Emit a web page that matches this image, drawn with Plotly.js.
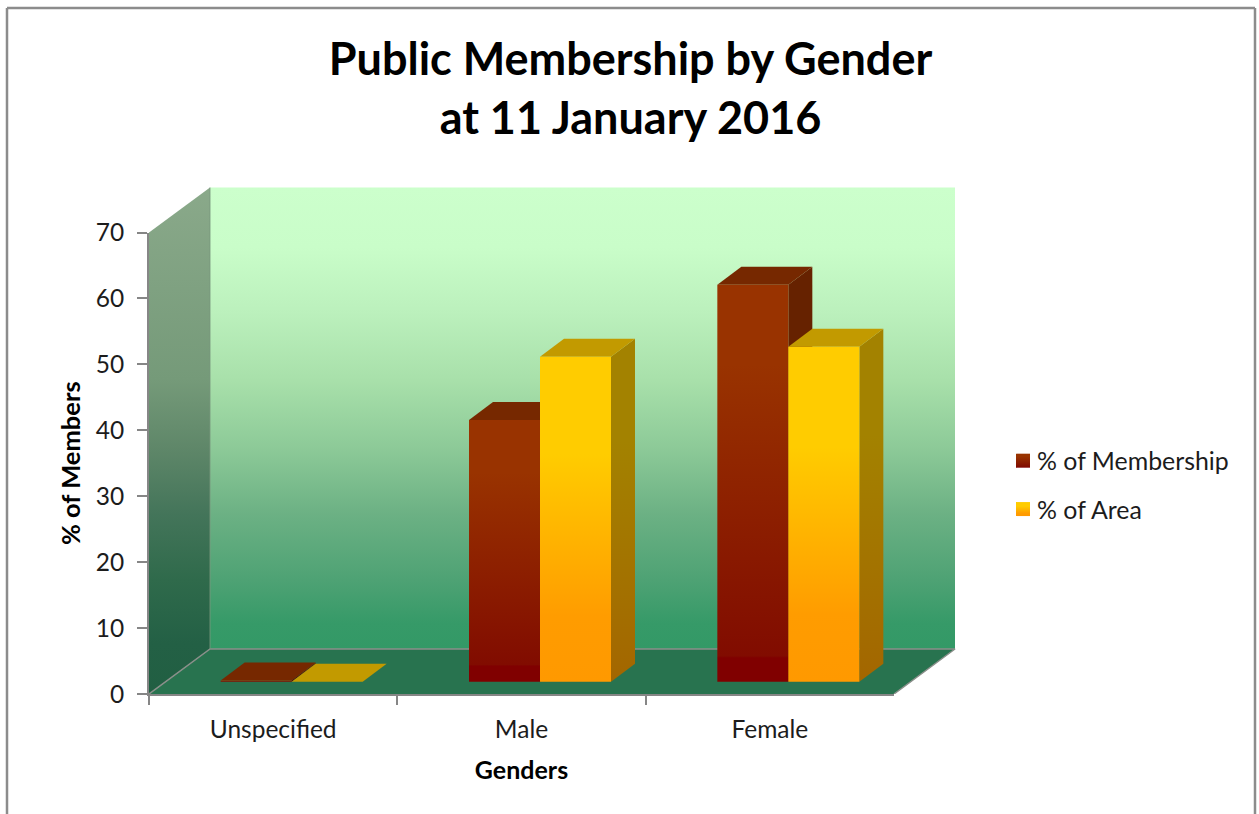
<!DOCTYPE html>
<html>
<head>
<meta charset="utf-8">
<script src="https://cdn.plot.ly/plotly-3.0.1.min.js"></script>
<style>html,body{margin:0;padding:0;background:#fff}#chart{width:1259px;height:814px}</style>
</head>
<body>
<div id="chart"></div>
<script>
const categories = ['Unspecified', 'Male', 'Female'];
const membership = [0.2, 39.7, 60.2];
const area = [0, 49.3, 50.8];
const seriesNames = ['% of Membership', '% of Area'];
const titleText = 'Public Membership by Gender<br>at 11 January 2016';
const xTitle = 'Genders';
const yTitle = '% of Members';

const W = 1259, H = 814;
const left = 149, right = 894, axisBottom = 694, axisTop = 232.5;
const pxX = (right - left) / 3, pxY = (axisBottom - axisTop) / 70;
const wallDx = 61 / pxX, wallDy = 45 / pxY;
const barDx = 24 / pxX, barDy = 18 / pxY;
const floorY = 12.3 / pxY;
const barW = 71 / pxX, off1 = -52.5 / pxX, off2 = 18.5 / pxX;
const wideRight = left + 815, wideTop = 185;
const wideXMax = -0.5 + (wideRight - left) / pxX, wideYMax = (axisBottom - wideTop) / pxY;

function poly(xs, ys, fill, grad) {
  const t = {type:'scatter', mode:'lines', x:xs.concat(xs[0]), y:ys.concat(ys[0]), fill:'toself',
    line:{width:0, color:'rgba(0,0,0,0)'}, showlegend:false, hoverinfo:'skip', xaxis:'x', yaxis:'y'};
  if (grad) {
    t.fillgradient = {type:'vertical', start:grad.start, stop:grad.stop, colorscale:grad.scale};
  } else t.fillcolor = fill;
  return t;
}
const traces = [];
traces.push(poly([-0.5+wallDx, 2.5+wallDx, 2.5+wallDx, -0.5+wallDx],
  [wallDy, wallDy, 70+wallDy, 70+wallDy], null,
  {start:wallDy, stop:70+wallDy, scale:[[0,'#339966'],[0.056,'#369a68'],[0.149,'#4ea274'],[0.294,'#6cb184'],[0.437,'#8dca98'],[0.582,'#a8e0aa'],[0.727,'#bbf0bc'],[0.87,'#c9fdc9'],[1,'#ccffcc']]}));
traces.push(poly([-0.5, -0.5+wallDx, -0.5+wallDx, -0.5],
  [0, wallDy, 70+wallDy, 70], null,
  {start:0, stop:70+wallDy, scale:[[0,'#215f42'],[0.1,'#236045'],[0.225,'#2f6a4b'],[0.357,'#44755a'],[0.487,'#5f8769'],[0.62,'#759a79'],[1,'#8aa98a']]}));
traces.push(poly([-0.5, 2.5, 2.5+wallDx, -0.5+wallDx], [0, 0, wallDy, wallDy], '#28734f'));
traces.push({type:'scatter', mode:'lines', x:[-0.5, -0.5+wallDx, 2.5+wallDx, 2.5],
  y:[0, wallDy, wallDy, 0], line:{color:'#8a8f8a', width:1.5}, showlegend:false, hoverinfo:'skip', xaxis:'x', yaxis:'y'});
traces.push({type:'scatter', mode:'lines', x:[-0.5+wallDx, -0.5+wallDx], y:[wallDy, 70+wallDy],
  line:{color:'rgba(120,150,125,0.7)', width:1.2}, showlegend:false, hoverinfo:'skip', xaxis:'x', yaxis:'y'});

function box3d(i, value, off, topCol, sideTop, sideBottom) {
  const xa = i + off, xb = xa + barW, y0 = floorY, y1 = floorY + value;
  if (value > 0) {
    traces.push(poly([xb, xb+barDx, xb+barDx, xb], [y0, y0+barDy, y1+barDy, y1], null,
      {start:y0, stop:y1+barDy, scale:[[0,sideBottom],[0.7,sideTop],[1,sideTop]]}));
  }
  traces.push(poly([xa, xb, xb+barDx, xa+barDx], [y1, y1, y1+barDy, y1+barDy], topCol));
}
categories.forEach((c, i) => {
  box3d(i, membership[i], off1, '#762800', '#662200', '#550000');
  box3d(i, area[i], off2, '#c29a00', '#a38200', '#a36600');
});
const frontBase = categories.map(() => floorY);
traces.push({type:'bar', name:seriesNames[0], x:categories, y:membership, base:frontBase,
  width:categories.map(() => barW), offset:categories.map(() => off1),
  marker:{color:'#8c1a00', line:{width:0}}, xaxis:'x2', yaxis:'y2', legendgroup:'a', hoverinfo:'skip'});
traces.push({type:'bar', name:seriesNames[1], x:categories, y:area, base:frontBase,
  width:categories.map(() => barW), offset:categories.map(() => off2),
  marker:{color:'#ffb300', line:{width:0}}, xaxis:'x2', yaxis:'y2', legendgroup:'b', hoverinfo:'skip'});

const FONT = 'Lato, Carlito, sans-serif', TXT = '#1c1c1c', AX = '#868686';
const layout = {
  width:W, height:H, margin:{l:0,r:0,t:0,b:0}, paper_bgcolor:'#fff', plot_bgcolor:'rgba(0,0,0,0)',
  barmode:'overlay', font:{family:FONT, color:TXT},
  title:{text:titleText, font:{family:FONT, size:45, color:'#000', weight:700}, x:630.5/W, xanchor:'center',
    xref:'paper', yref:'paper', y:1-75/H, yanchor:'top'},
  xaxis:{domain:[left/W, wideRight/W], range:[-0.5, wideXMax], visible:false, fixedrange:true, anchor:'y'},
  yaxis:{domain:[1-axisBottom/H, 1-wideTop/H], range:[0, wideYMax], visible:false, fixedrange:true, anchor:'x'},
  xaxis2:{domain:[left/W, right/W], range:[-0.5, 2.5], type:'category', categoryorder:'array', categoryarray:categories,
    tickson:'boundaries', ticks:'outside', ticklen:9, tickwidth:2, tickcolor:AX, showline:true, linecolor:AX, linewidth:2,
    showgrid:false, zeroline:false, anchor:'y2', tickfont:{family:FONT, size:24.5, color:TXT}, fixedrange:true, ticklabelstandoff:13,
    title:{text:xTitle, font:{family:FONT, size:25, color:'#000', weight:700}, standoff:19}},
  yaxis2:{domain:[1-axisBottom/H, 1-axisTop/H], range:[0, 70], dtick:10, ticks:'outside', ticklen:10, tickwidth:2, tickcolor:AX,
    showline:true, linecolor:AX, linewidth:2, showgrid:false, zeroline:false, anchor:'x2', fixedrange:true, ticklabelstandoff:8,
    tickfont:{family:FONT, size:24.5, color:TXT},
    title:{text:yTitle, font:{family:FONT, size:25.5, color:'#000', weight:700}, standoff:8}},
  legend:{x:1003/W, xanchor:'left', y:1-438/H, yanchor:'top', bgcolor:'rgba(0,0,0,0)', font:{family:FONT, size:24.9, color:TXT},
    traceorder:'grouped', tracegroupgap:13, itemwidth:30},
  shapes:[
    {type:'line', xref:'paper', yref:'paper', x0:7/W, x1:1255/W, y0:1-8/H, y1:1-8/H, line:{color:'#8c8c8c', width:2.5}},
    {type:'line', xref:'paper', yref:'paper', x0:7/W, x1:7/W, y0:1-8/H, y1:0, line:{color:'#8c8c8c', width:2.5}},
    {type:'line', xref:'paper', yref:'paper', x0:1255/W, x1:1255/W, y0:1-8/H, y1:0, line:{color:'#8c8c8c', width:2.5}}
  ]
};
function addGrad(svg, id, stops) {
  const ns = 'http://www.w3.org/2000/svg';
  const g = document.createElementNS(ns, 'linearGradient');
  g.setAttribute('id', id);
  g.setAttribute('x1','0'); g.setAttribute('y1','0'); g.setAttribute('x2','0'); g.setAttribute('y2','1');
  stops.forEach(s => {
    const e = document.createElementNS(ns, 'stop');
    e.setAttribute('offset', s[0]); e.setAttribute('stop-color', s[1]);
    g.appendChild(e);
  });
  svg.querySelector('defs').appendChild(g);
}
Plotly.newPlot('chart', traces, layout, {displayModeBar:false, staticPlot:true}).then(gd => {
  const svg = gd.querySelector('.main-svg');
  addGrad(svg, 'gMem', [[0,'#993300'],[0.2,'#993300'],[0.935,'#810c00'],[0.94,'#800000'],[1,'#800000']]);
  addGrad(svg, 'gArea', [[0,'#ffcc00'],[0.3,'#ffcc00'],[0.8,'#ff9c00'],[1,'#ff9900']]);
  const ids = ['gMem', 'gArea'];
  gd.querySelectorAll('.barlayer .trace').forEach((tr, k) => {
    tr.querySelectorAll('path').forEach(p => p.style.setProperty('fill', 'url(#' + ids[k] + ')'));
  });
  gd.querySelectorAll('.legend .traces').forEach((tr, k) => {
    tr.querySelectorAll('.legendpoints path, .legendbar path, path.legendbar').forEach(p => {
      p.style.setProperty('fill', 'url(#' + ids[k] + ')');
      p.setAttribute('d', 'M7,7H-7V-7H7Z');
    });
    const t = tr.querySelector('.legendtext');
    if (t) t.setAttribute('x', parseFloat(t.getAttribute('x')) - 6);
  });
});
</script>
</body>
</html>
